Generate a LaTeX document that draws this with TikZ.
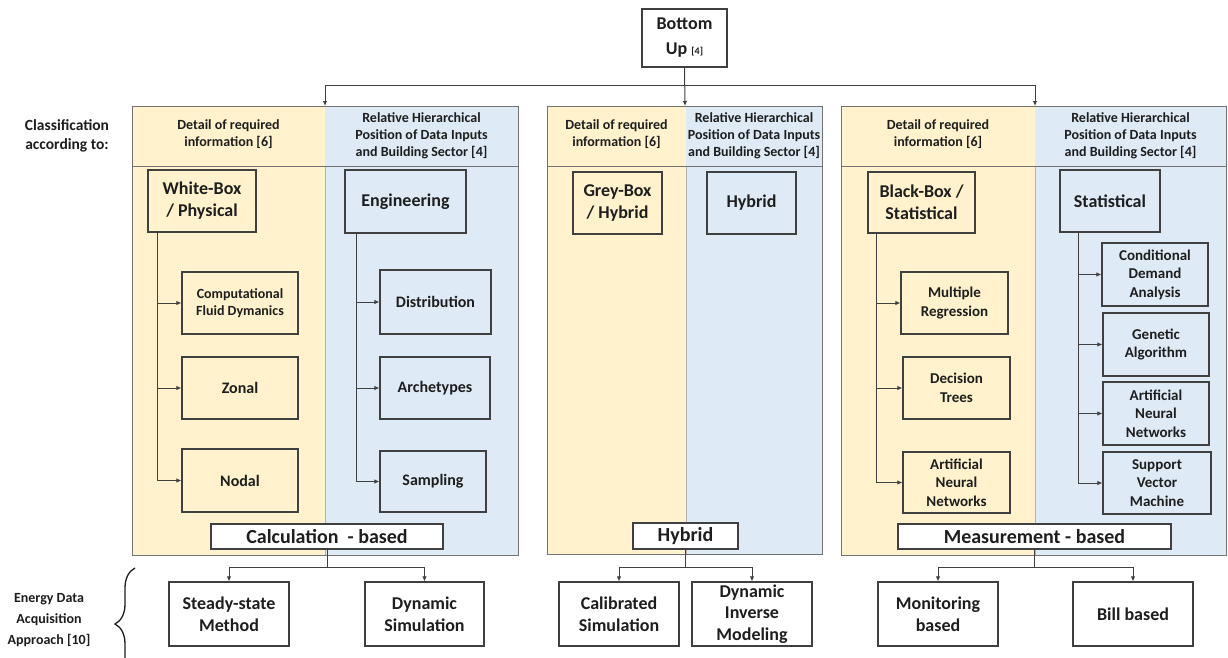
\documentclass[tikz,border=0pt]{standalone}
\usepackage{fontspec}
\setmainfont{Carlito}
\usetikzlibrary{arrows.meta,decorations.pathreplacing}
\definecolor{ylw}{HTML}{FFF2CC}
\definecolor{blu}{HTML}{DEEBF7}
\definecolor{edge}{HTML}{404040}
\definecolor{ink}{HTML}{1E1E1E}
\tikzset{
  box/.style={draw=edge, line width=1.1pt, align=center, inner sep=1pt, text=ink},
  catbox/.style={box, font=\fontsize{18}{22}\selectfont\bfseries},
  subbox/.style={box, font=\fontsize{15}{18.5}\selectfont\bfseries},
  wordbox/.style={box, font=\fontsize{16}{19}\selectfont\bfseries},
  basebox/.style={box, fill=white, font=\fontsize{20}{24}\selectfont\bfseries},
  acqbox/.style={box, fill=white, font=\fontsize{18}{22}\selectfont\bfseries},
  head/.style={align=center, inner sep=0pt, text=ink, font=\fontsize{14}{17}\selectfont\bfseries},
  sidelabel/.style={align=center, inner sep=0pt, text=ink},
  panel/.style={draw=black!55, line width=1pt},
  split/.style={draw=black!30, line width=0.6pt},
  arr/.style={draw=edge, line width=1pt, -{Latex[length=5pt,width=4.5pt]}},
  wh/.style 2 args={minimum width=#1, minimum height=#2},
}
\begin{document}
\begin{tikzpicture}[x=1pt, y=-1pt]
    \useasboundingbox[fill=white] (0,0) rectangle (1228,657);
    % Panels
    \fill[ylw] (132,106) rectangle (325,555);
    \fill[blu] (325,106) rectangle (518,555);
    \fill[ylw] (547,106) rectangle (686,554);
    \fill[blu] (686,106) rectangle (822,554);
    \fill[ylw] (841,106) rectangle (1035,555);
    \fill[blu] (1035,106) rectangle (1226,555);
    \draw[split] (325,166) -- (325,555);
    \draw[split] (686,166) -- (686,554);
    \draw[split] (1035,166) -- (1035,555);
    \draw[panel] (132,106) rectangle (518,555) (132,166) -- (518,166);
    \draw[panel] (547,106) rectangle (822,554) (547,166) -- (822,166);
    \draw[panel] (841,106) rectangle (1226,555) (841,166) -- (1226,166);
    % Arrow targets on the panel tops
    \coordinate (p1top) at (325,106);
    \coordinate (p2top) at (685,106);
    \coordinate (p3top) at (1035,106);
    % Root
    \node[catbox, fill=white, wh={85}{58}, font=\fontsize{18}{25}\selectfont\bfseries] (bu) at (684.5,38)
        {Bottom\\Up {\fontsize{10}{12}\selectfont[4]}};
    \coordinate (junc) at (684.5,85);
    % Side labels
    \node[sidelabel, font=\fontsize{15.5}{19}\selectfont\bfseries] (cls) at (67,135.5) {Classification\\according to:};
    \node[sidelabel, font=\fontsize{14}{21}\selectfont\bfseries] (eda) at (49,620) {Energy Data\\Acquisition\\Approach [10]};
    \draw[decorate, decoration={brace, amplitude=20pt}, line width=1.3pt, ink] (135,680) -- (135,568);
    % Headers
    \node[head] (h1a) at (228.5,134) {Detail of required\\information [6]};
    \node[head] (h1b) at (421.5,136) {Relative Hierarchical\\Position of Data Inputs\\and Building Sector [4]};
    \node[head] (h2a) at (616.5,134) {Detail of required\\information [6]};
    \node[head] (h2b) at (754,136) {Relative Hierarchical\\Position of Data Inputs\\and Building Sector [4]};
    \node[head] (h3a) at (938,134) {Detail of required\\information [6]};
    \node[head] (h3b) at (1130.5,136) {Relative Hierarchical\\Position of Data Inputs\\and Building Sector [4]};
    % Calculation-based panel
    \node[catbox, fill=ylw, wh={108}{62}] (wb) at (202,201) {White-Box\\/ Physical};
    \node[catbox, fill=blu, wh={121}{63}] (eng) at (405.5,201.5) {Engineering};
    \node[subbox, fill=ylw, wh={116}{62}, font=\fontsize{14}{16.5}\selectfont\bfseries] (cfd) at (240,303) {Computational\\Fluid Dymanics};
    \node[wordbox, fill=ylw, wh={116}{62}] (zonal) at (240,388) {Zonal};
    \node[wordbox, fill=ylw, wh={116}{63}] (nodal) at (240,480.5) {Nodal};
    \node[wordbox, fill=blu, wh={111}{64}] (dist) at (435.5,302) {Distribution};
    \node[wordbox, fill=blu, wh={110}{62}] (arch) at (435,388) {Archetypes};
    \node[wordbox, fill=blu, wh={106}{61}] (samp) at (433,481.5) {Sampling};
    \node[basebox, wh={232}{25}] (calc) at (327,536.5) {Calculation\ \ - based};
    % Hybrid panel
    \node[catbox, fill=ylw, wh={89}{62}] (gb) at (617.5,203) {Grey-Box\\/ Hybrid};
    \node[catbox, fill=blu, wh={89}{62}] (hyb) at (751.5,203) {Hybrid};
    \node[basebox, wh={105}{26}] (hybbase) at (685.5,536) {Hybrid};
    % Measurement-based panel
    \node[catbox, fill=ylw, wh={107}{61}] (bb) at (921.5,202.5) {Black-Box /\\Statistical};
    \node[catbox, fill=blu, wh={100}{62}] (stat) at (1110,201) {Statistical};
    \node[subbox, fill=ylw, wh={107}{62}] (mr) at (954.5,303) {Multiple\\Regression};
    \node[subbox, fill=ylw, wh={107}{62}] (dt) at (956.5,388) {Decision\\Trees};
    \node[subbox, fill=ylw, wh={107}{61}] (annb) at (956.5,482.5) {Artificial\\Neural\\Networks};
    \node[subbox, fill=blu, wh={106}{63}] (cda) at (1155,274.5) {Conditional\\Demand\\Analysis};
    \node[subbox, fill=blu, wh={106}{63}] (ga) at (1156,344.5) {Genetic\\Algorithm};
    \node[subbox, fill=blu, wh={106}{63}] (anns) at (1156,413.5) {Artificial\\Neural\\Networks};
    \node[subbox, fill=blu, wh={108}{62}] (svm) at (1157,483) {Support\\Vector\\Machine};
    \node[basebox, wh={273}{25}] (meas) at (1034.5,536.5) {Measurement - based};
    % Energy data acquisition approaches
    \node[acqbox, wh={120}{64}] (steady) at (229,614) {Steady-state\\Method};
    \node[acqbox, wh={119}{64}] (dynsim) at (424.5,614) {Dynamic\\Simulation};
    \node[acqbox, wh={120}{64}] (calib) at (619,614) {Calibrated\\Simulation};
    \node[acqbox, wh={120}{64}, font=\fontsize{18}{21.5}\selectfont\bfseries] (dyninv) at (752,614) {Dynamic\\Inverse\\Modeling};
    \node[acqbox, wh={120}{64}] (mon) at (938,614) {Monitoring\\based};
    \node[acqbox, wh={120}{64}] (bill) at (1133,614) {Bill based};
    % Root to panels
    \draw[arr] (bu.south) -- (p2top);
    \draw[arr] (junc) -| (p1top);
    \draw[arr] (junc) -| (p3top);
    % Trees inside the panels
    \draw[arr] ([xshift=10pt]wb.south west) |- (cfd.west);
    \draw[arr] ([xshift=10pt]wb.south west) |- (zonal.west);
    \draw[arr] ([xshift=10pt]wb.south west) |- (nodal.west);
    \draw[arr] ([xshift=12pt]eng.south west) |- (dist.west);
    \draw[arr] ([xshift=12pt]eng.south west) |- (arch.west);
    \draw[arr] ([xshift=12pt]eng.south west) |- (samp.west);
    \draw[arr] ([xshift=9pt]bb.south west) |- (mr.west);
    \draw[arr] ([xshift=9pt]bb.south west) |- (dt.west);
    \draw[arr] ([xshift=9pt]bb.south west) |- (annb.west);
    \draw[arr] ([xshift=19pt]stat.south west) |- (cda.west);
    \draw[arr] ([xshift=19pt]stat.south west) |- (ga.west);
    \draw[arr] ([xshift=19pt]stat.south west) |- (anns.west);
    \draw[arr] ([xshift=19pt]stat.south west) |- (svm.west);
    % Bases to approaches
    \draw[arr] (calc.south) -- ++(0,18) -| (steady.north);
    \draw[arr] (calc.south) -- ++(0,18) -| (dynsim.north);
    \draw[arr] (hybbase.south) -- ++(0,18) -| (calib.north);
    \draw[arr] (hybbase.south) -- ++(0,18) -| (dyninv.north);
    \draw[arr] (meas.south) -- ++(0,18) -| (mon.north);
    \draw[arr] (meas.south) -- ++(0,18) -| (bill.north);
\end{tikzpicture}
\end{document}
